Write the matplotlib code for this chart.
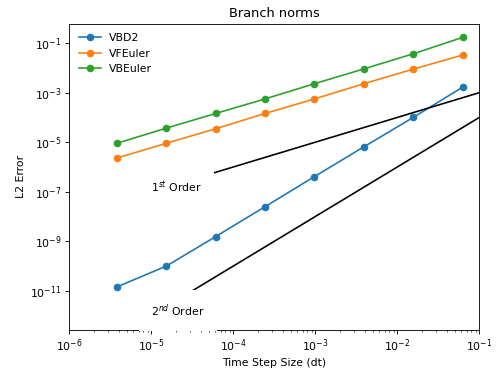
import matplotlib
matplotlib.use("Agg")
import matplotlib.pyplot as plt
import numpy as np

# time step sizes: 2^-18 ... 2^-4
dt = [2.0**-18, 2.0**-16, 2.0**-14, 2.0**-12, 2.0**-10, 2.0**-8, 2.0**-6, 2.0**-4]

err_vbd2 = [1.44e-11, 1.0e-10, 1.55e-9, 2.5e-8, 4.1e-7, 6.5e-6, 1.0e-4, 1.66e-3]
err_vfeuler = [2.3e-6, 9.1e-6, 3.5e-5, 1.45e-4, 5.6e-4, 2.3e-3, 8.9e-3, 3.3e-2]
err_vbeuler = [9.1e-6, 3.7e-5, 1.45e-4, 5.6e-4, 2.3e-3, 9.1e-3, 3.7e-2, 1.7e-1]

# reference slopes
ref_x = np.array([1e-5, 1e-1])
ref_first = 1e-2 * ref_x
ref_second = 1e-2 * ref_x**2

fig = plt.figure(figsize=(499 / 78, 368 / 78), dpi=78)
ax = fig.add_axes([0.1389, 0.1046, 0.8216, 0.8315])

ax.loglog(dt, err_vbd2, 'o-', label='VBD2')
ax.loglog(dt, err_vfeuler, 'o-', label='VFEuler')
ax.loglog(dt, err_vbeuler, 'o-', label='VBEuler')

ax.loglog(ref_x, ref_first, 'k-')
ax.loglog(ref_x, ref_second, 'k-')

box = dict(facecolor='white', edgecolor='none', pad=11)
ax.text(ref_x[0], ref_first[0], r'$1^{st}$ Order', bbox=box)
ax.text(ref_x[0], ref_second[0], r'$2^{nd}$ Order', bbox=box)

ax.set_xlim(1e-6, 1e-1)
ax.set_xlabel('Time Step Size (dt)')
ax.set_ylabel('L2 Error')
ax.set_title('Branch norms')
ax.legend(loc='upper left', frameon=False)

fig.savefig('out.png', dpi=78)
